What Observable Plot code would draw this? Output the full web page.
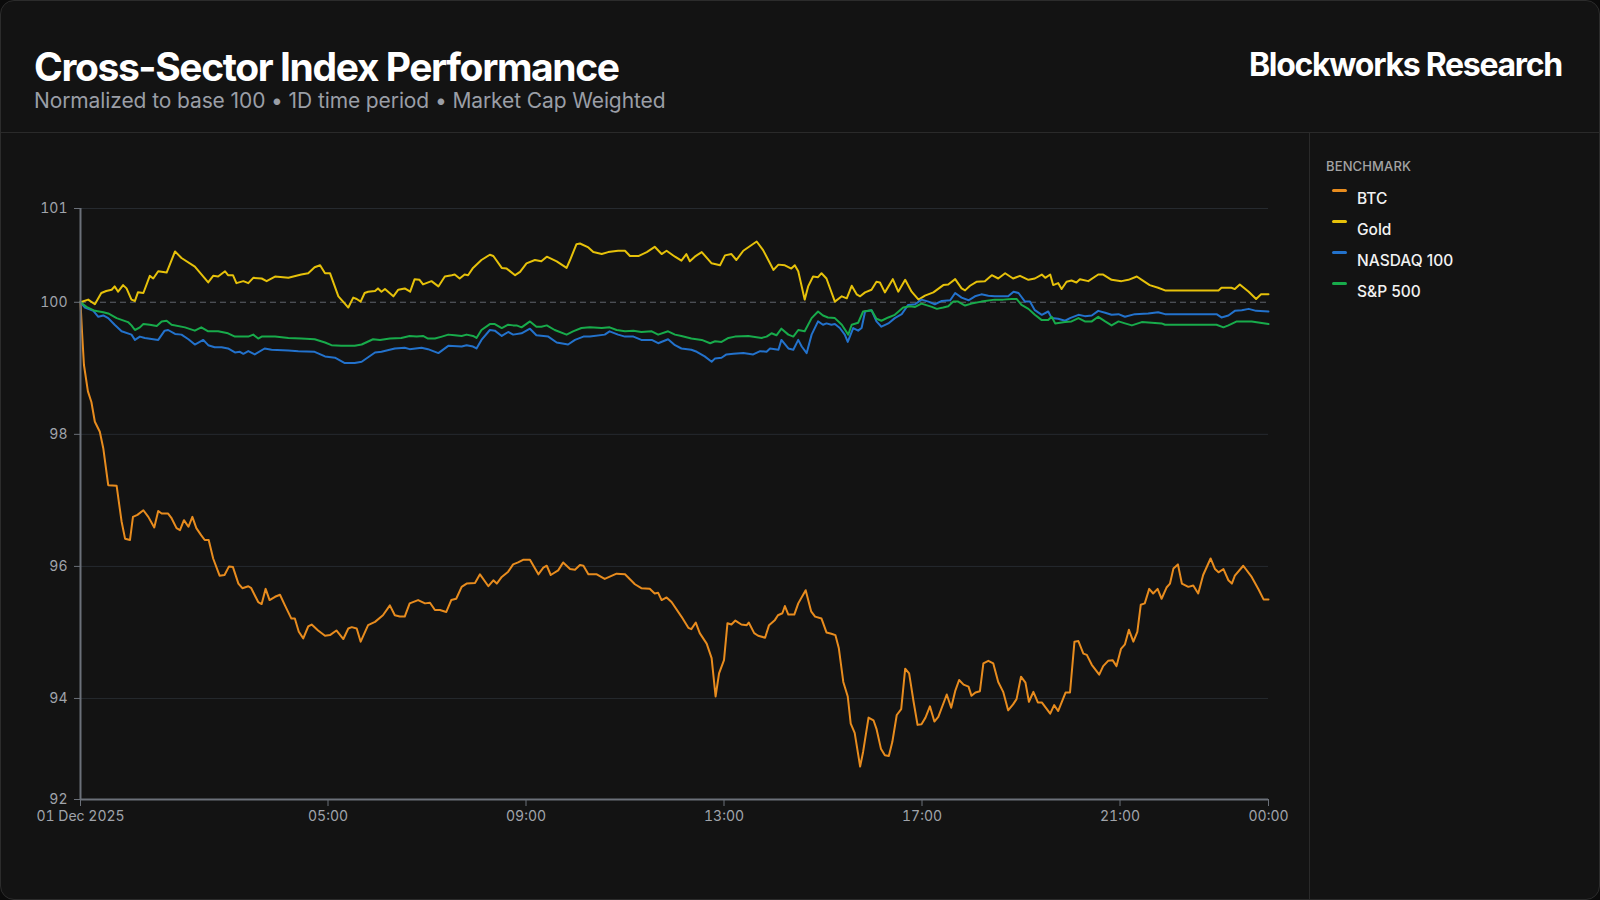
<!DOCTYPE html>
<html>
<head>
<meta charset="utf-8">
<script src="https://cdn.jsdelivr.net/npm/d3@7"></script>
<script src="https://cdn.jsdelivr.net/npm/@observablehq/plot@0.6"></script>
<style>
  html, body { margin: 0; padding: 0; background: #0b0b0b; width: 1600px; height: 900px; overflow: hidden; }
  body { font-family: Inter, "Noto Sans", sans-serif; }
  .card { position: absolute; left: 0; top: 0; width: 1598px; height: 898px; background: #131313; border: 1px solid #2c2c2c; border-radius: 14px; overflow: hidden; }
  .header { position: absolute; left: 0; top: 0; width: 100%; height: 131px; border-bottom: 1px solid #2a2a2a; }
  .title { position: absolute; left: 33px; top: 44px; font-size: 39px; font-weight: 700; color: #ffffff; letter-spacing: -0.036em; line-height: 44px; white-space: nowrap; }
  .subtitle { position: absolute; left: 33px; top: 88px; font-size: 21px; font-weight: 400; color: #9a9ea6; line-height: 24px; white-space: nowrap; letter-spacing: -0.005em; }
  .brand { position: absolute; right: 37px; top: 46px; font-size: 32px; font-weight: 700; color: #ffffff; letter-spacing: -0.04em; line-height: 36px; white-space: nowrap; }
  .chart { position: absolute; left: 0; top: 132px; width: 1308px; height: 768px; }
  .legend { position: absolute; left: 1308px; top: 132px; width: 292px; height: 768px; border-left: 1px solid #2a2a2a; }
  .legend-title { position: absolute; left: 16px; top: 25px; font-size: 13px; font-weight: 500; color: #a3a3a3; letter-spacing: 0.01em; }
  .legend-item { position: absolute; left: 22px; height: 20px; }
  .legend-item .sw { position: absolute; left: 0; top: 0; width: 15px; height: 2.5px; border-radius: 2px; }
  .legend-item .lb { position: absolute; left: 25px; top: 0px; font-size: 15.5px; font-weight: 500; color: #f2f2f2; white-space: nowrap; line-height: 20px; }
</style>
</head>
<body>
<div class="card">
  <div class="header">
    <div class="title">Cross-Sector Index Performance</div>
    <div class="subtitle">Normalized to base 100 • 1D time period • Market Cap Weighted</div>
    <div class="brand">Blockworks Research</div>
  </div>
  <div class="chart" id="chart"></div>
  <div class="legend" id="legend"><div class="legend-title">BENCHMARK</div></div>
</div>
<script>
// ---- data (hours since 01 Dec 2025 00:00, index value) ----
const seriesNames = ["BTC", "Gold", "NASDAQ 100", "S&P 500"];
const seriesColors = ["#e88c1e", "#e6c10a", "#2372cc", "#18ab4b"];

const btc = [[0,100],[0.03,99.56],[0.07,99.05],[0.15,98.65],[0.22,98.49],[0.29,98.19],[0.39,98.04],[0.46,97.79],[0.56,97.23],[0.73,97.22],[0.83,96.68],[0.90,96.42],[1.0,96.40],[1.06,96.75],[1.15,96.78],[1.27,96.85],[1.37,96.75],[1.49,96.59],[1.57,96.84],[1.64,96.80],[1.77,96.80],[1.84,96.73],[1.94,96.58],[2.01,96.55],[2.09,96.70],[2.18,96.60],[2.26,96.75],[2.34,96.58],[2.44,96.47],[2.51,96.40],[2.59,96.40],[2.68,96.12],[2.81,95.86],[2.91,95.87],[3.0,96.0],[3.08,95.99],[3.19,95.74],[3.27,95.67],[3.39,95.70],[3.45,95.67],[3.59,95.46],[3.66,95.43],[3.74,95.66],[3.82,95.49],[3.93,95.54],[4.03,95.57],[4.13,95.41],[4.26,95.21],[4.33,95.21],[4.41,95.01],[4.50,94.91],[4.60,95.09],[4.67,95.12],[4.80,95.03],[4.94,94.95],[5.04,94.96],[5.17,95.03],[5.31,94.90],[5.41,95.06],[5.48,95.08],[5.58,95.06],[5.66,94.86],[5.81,95.11],[5.95,95.16],[6.11,95.26],[6.25,95.41],[6.35,95.26],[6.45,95.24],[6.55,95.24],[6.65,95.44],[6.82,95.49],[6.96,95.44],[7.06,95.45],[7.16,95.34],[7.26,95.34],[7.39,95.31],[7.49,95.49],[7.59,95.51],[7.70,95.69],[7.80,95.74],[7.97,95.75],[8.07,95.88],[8.24,95.70],[8.34,95.79],[8.41,95.74],[8.51,95.84],[8.64,95.92],[8.74,96.03],[8.84,96.06],[8.94,96.10],[9.08,96.10],[9.25,95.88],[9.35,95.98],[9.42,96.01],[9.50,95.87],[9.65,95.94],[9.75,96.06],[9.89,95.96],[9.99,95.95],[10.09,96.02],[10.16,96.01],[10.26,95.88],[10.43,95.88],[10.59,95.81],[10.83,95.89],[11.0,95.88],[11.20,95.73],[11.33,95.67],[11.50,95.66],[11.60,95.59],[11.67,95.60],[11.74,95.49],[11.84,95.53],[11.94,95.46],[12.14,95.24],[12.28,95.07],[12.34,95.05],[12.43,95.15],[12.51,94.99],[12.65,94.83],[12.75,94.61],[12.83,94.03],[12.90,94.38],[13.0,94.58],[13.07,95.14],[13.15,95.12],[13.23,95.18],[13.35,95.12],[13.46,95.11],[13.50,95.15],[13.61,94.99],[13.69,94.95],[13.83,94.92],[13.91,95.11],[14.03,95.19],[14.09,95.26],[14.18,95.29],[14.23,95.40],[14.30,95.27],[14.42,95.27],[14.50,95.44],[14.65,95.64],[14.76,95.32],[14.84,95.24],[14.97,95.21],[15.07,95.00],[15.17,94.98],[15.25,94.96],[15.32,94.76],[15.41,94.25],[15.50,94.03],[15.56,93.62],[15.64,93.48],[15.75,92.97],[15.81,93.19],[15.92,93.71],[16.02,93.67],[16.08,93.54],[16.17,93.24],[16.25,93.14],[16.33,93.13],[16.40,93.34],[16.49,93.75],[16.58,93.84],[16.66,94.45],[16.74,94.38],[16.83,93.95],[16.91,93.60],[16.99,93.61],[17.07,93.71],[17.16,93.88],[17.25,93.65],[17.33,93.72],[17.50,94.06],[17.59,93.86],[17.67,94.11],[17.75,94.28],[17.84,94.21],[17.94,94.18],[18.0,94.04],[18.08,94.09],[18.17,94.11],[18.24,94.53],[18.34,94.57],[18.44,94.53],[18.54,94.25],[18.64,94.10],[18.74,93.82],[18.84,93.91],[18.91,93.99],[19.0,94.33],[19.09,94.24],[19.16,93.95],[19.25,94.10],[19.34,93.94],[19.42,93.94],[19.59,93.77],[19.67,93.90],[19.75,93.81],[19.90,94.09],[19.99,94.09],[20.08,94.86],[20.16,94.87],[20.26,94.68],[20.33,94.66],[20.43,94.51],[20.58,94.36],[20.66,94.49],[20.76,94.57],[20.85,94.58],[20.93,94.49],[21.02,94.75],[21.10,94.82],[21.18,95.04],[21.27,94.86],[21.35,95.01],[21.42,95.42],[21.50,95.44],[21.59,95.66],[21.67,95.59],[21.76,95.66],[21.84,95.51],[21.94,95.68],[22.01,95.74],[22.08,95.97],[22.17,96.03],[22.25,95.74],[22.38,95.69],[22.48,95.71],[22.58,95.59],[22.68,95.87],[22.83,96.12],[22.92,95.96],[22.99,95.91],[23.09,95.96],[23.19,95.79],[23.26,95.74],[23.32,95.86],[23.49,96.01],[23.66,95.84],[23.80,95.65],[23.90,95.50],[24,95.50]];

const gold = [[0,100],[0.155,100.04],[0.29,99.97],[0.42,100.14],[0.52,100.17],[0.63,100.19],[0.69,100.24],[0.76,100.16],[0.86,100.26],[0.93,100.21],[1.03,100.04],[1.10,100.02],[1.16,100.15],[1.27,100.14],[1.40,100.40],[1.47,100.36],[1.57,100.47],[1.74,100.45],[1.91,100.77],[2.04,100.67],[2.31,100.54],[2.58,100.30],[2.68,100.40],[2.78,100.39],[2.92,100.47],[2.98,100.41],[3.08,100.41],[3.15,100.29],[3.29,100.32],[3.39,100.29],[3.49,100.37],[3.66,100.36],[3.76,100.32],[3.93,100.39],[4.20,100.37],[4.46,100.42],[4.60,100.44],[4.73,100.53],[4.84,100.56],[4.94,100.44],[5.04,100.44],[5.21,100.09],[5.34,99.98],[5.41,99.92],[5.51,100.07],[5.58,100.05],[5.66,100.01],[5.74,100.14],[5.81,100.16],[5.95,100.17],[6.01,100.21],[6.08,100.16],[6.15,100.20],[6.32,100.09],[6.42,100.19],[6.55,100.21],[6.66,100.16],[6.75,100.35],[6.85,100.34],[6.92,100.27],[7.09,100.32],[7.23,100.24],[7.36,100.39],[7.50,100.41],[7.56,100.42],[7.66,100.36],[7.76,100.42],[7.83,100.41],[7.93,100.52],[8.10,100.64],[8.27,100.72],[8.34,100.70],[8.51,100.52],[8.61,100.51],[8.78,100.41],[8.88,100.46],[9.01,100.59],[9.18,100.64],[9.31,100.62],[9.42,100.69],[9.62,100.62],[9.82,100.52],[9.89,100.64],[10.02,100.88],[10.09,100.89],[10.26,100.83],[10.36,100.76],[10.53,100.73],[10.66,100.76],[10.86,100.78],[11.0,100.78],[11.10,100.70],[11.27,100.70],[11.44,100.76],[11.60,100.84],[11.74,100.73],[11.84,100.78],[12.01,100.69],[12.14,100.63],[12.24,100.73],[12.31,100.62],[12.41,100.69],[12.55,100.76],[12.75,100.59],[12.92,100.56],[13.02,100.71],[13.15,100.73],[13.25,100.64],[13.39,100.78],[13.66,100.92],[13.79,100.79],[14.0,100.49],[14.10,100.57],[14.23,100.56],[14.36,100.51],[14.43,100.56],[14.50,100.47],[14.63,100.04],[14.70,100.24],[14.80,100.39],[14.90,100.38],[14.97,100.44],[15.07,100.36],[15.24,100.01],[15.38,100.09],[15.48,100.06],[15.58,100.25],[15.68,100.12],[15.75,100.09],[15.85,100.15],[15.98,100.19],[16.08,100.31],[16.15,100.30],[16.25,100.15],[16.41,100.35],[16.52,100.16],[16.66,100.34],[16.79,100.16],[16.93,100.04],[17.06,100.10],[17.23,100.15],[17.43,100.26],[17.53,100.27],[17.67,100.35],[17.80,100.21],[17.87,100.18],[17.97,100.25],[18.10,100.31],[18.27,100.32],[18.41,100.41],[18.54,100.36],[18.68,100.44],[18.84,100.36],[18.98,100.40],[19.15,100.34],[19.28,100.36],[19.42,100.42],[19.49,100.37],[19.59,100.42],[19.65,100.26],[19.75,100.29],[19.82,100.20],[19.92,100.31],[20.02,100.33],[20.12,100.30],[20.19,100.35],[20.36,100.32],[20.56,100.42],[20.66,100.42],[20.83,100.34],[21.03,100.32],[21.17,100.34],[21.34,100.39],[21.44,100.34],[21.60,100.26],[21.77,100.22],[21.91,100.18],[22.99,100.18],[23.05,100.22],[23.25,100.22],[23.32,100.20],[23.42,100.27],[23.60,100.16],[23.75,100.05],[23.85,100.12],[24,100.12]];

const nasdaq = [[0,100],[0.09,99.92],[0.26,99.87],[0.36,99.78],[0.46,99.80],[0.56,99.76],[0.69,99.66],[0.83,99.56],[1.03,99.51],[1.10,99.43],[1.20,99.48],[1.30,99.46],[1.57,99.43],[1.70,99.57],[1.77,99.58],[1.91,99.52],[2.04,99.51],[2.18,99.44],[2.31,99.36],[2.48,99.43],[2.58,99.35],[2.71,99.32],[2.85,99.32],[2.98,99.30],[3.12,99.24],[3.22,99.25],[3.29,99.22],[3.39,99.26],[3.52,99.21],[3.72,99.30],[3.86,99.28],[4.20,99.27],[4.40,99.26],[4.73,99.25],[4.94,99.18],[5.14,99.16],[5.34,99.08],[5.54,99.08],[5.68,99.10],[5.95,99.24],[6.08,99.25],[6.35,99.30],[6.55,99.31],[6.65,99.29],[6.89,99.31],[7.02,99.29],[7.23,99.23],[7.43,99.34],[7.70,99.33],[7.80,99.35],[7.93,99.33],[8.0,99.30],[8.10,99.43],[8.27,99.58],[8.37,99.57],[8.51,99.49],[8.64,99.55],[8.74,99.51],[8.91,99.53],[9.08,99.60],[9.21,99.50],[9.45,99.48],[9.62,99.39],[9.85,99.36],[9.99,99.43],[10.16,99.48],[10.29,99.48],[10.59,99.51],[10.69,99.56],[10.86,99.51],[11.0,99.48],[11.17,99.48],[11.33,99.43],[11.54,99.43],[11.67,99.38],[11.87,99.44],[12.01,99.35],[12.14,99.30],[12.34,99.28],[12.45,99.25],[12.61,99.18],[12.75,99.10],[12.82,99.15],[12.95,99.16],[13.05,99.21],[13.19,99.22],[13.39,99.23],[13.59,99.21],[13.73,99.26],[13.86,99.25],[13.93,99.30],[14.10,99.28],[14.16,99.43],[14.30,99.30],[14.40,99.28],[14.50,99.43],[14.57,99.33],[14.67,99.23],[14.77,99.51],[14.90,99.71],[15.0,99.66],[15.07,99.68],[15.17,99.66],[15.24,99.67],[15.34,99.61],[15.44,99.51],[15.50,99.40],[15.61,99.61],[15.71,99.57],[15.78,99.61],[15.85,99.86],[15.98,99.88],[16.08,99.71],[16.18,99.63],[16.32,99.68],[16.45,99.76],[16.59,99.82],[16.72,99.96],[16.86,99.97],[16.99,100.04],[17.13,100.01],[17.26,99.97],[17.40,100.02],[17.57,100.03],[17.67,100.14],[17.80,100.07],[17.94,100.03],[18.07,100.09],[18.20,100.12],[18.34,100.10],[18.47,100.09],[18.74,100.09],[18.85,100.16],[18.95,100.14],[19.08,100.01],[19.18,100.01],[19.28,99.88],[19.42,99.81],[19.55,99.86],[19.62,99.76],[19.75,99.75],[19.89,99.72],[19.99,99.76],[20.16,99.81],[20.29,99.79],[20.43,99.80],[20.56,99.87],[20.70,99.84],[20.83,99.81],[20.97,99.82],[21.10,99.78],[21.30,99.82],[21.57,99.83],[21.77,99.85],[21.91,99.82],[22.95,99.82],[23.05,99.77],[23.19,99.80],[23.32,99.87],[23.46,99.88],[23.60,99.90],[23.75,99.87],[24,99.86]];

const sp500 = [[0,100],[0.12,99.93],[0.29,99.87],[0.46,99.85],[0.56,99.83],[0.73,99.76],[0.96,99.70],[1.03,99.65],[1.10,99.58],[1.20,99.62],[1.27,99.67],[1.40,99.66],[1.54,99.64],[1.64,99.71],[1.74,99.72],[1.84,99.66],[2.11,99.62],[2.31,99.57],[2.44,99.62],[2.58,99.56],[2.78,99.56],[2.98,99.53],[3.12,99.48],[3.39,99.48],[3.49,99.51],[3.59,99.45],[3.66,99.48],[3.93,99.48],[4.20,99.46],[4.46,99.45],[4.73,99.44],[4.94,99.39],[5.07,99.35],[5.27,99.34],[5.54,99.34],[5.68,99.36],[5.91,99.44],[6.05,99.43],[6.25,99.45],[6.48,99.46],[6.65,99.49],[6.79,99.48],[6.92,99.49],[7.02,99.45],[7.16,99.45],[7.30,99.48],[7.43,99.51],[7.56,99.50],[7.70,99.49],[7.80,99.51],[7.93,99.49],[8.0,99.46],[8.10,99.58],[8.27,99.67],[8.37,99.67],[8.51,99.61],[8.64,99.66],[8.74,99.65],[8.81,99.65],[8.91,99.62],[9.08,99.71],[9.21,99.63],[9.31,99.63],[9.42,99.65],[9.58,99.58],[9.82,99.51],[9.95,99.56],[10.12,99.61],[10.29,99.62],[10.53,99.61],[10.69,99.62],[10.83,99.58],[11.0,99.56],[11.17,99.57],[11.33,99.55],[11.54,99.56],[11.67,99.51],[11.87,99.56],[12.01,99.51],[12.14,99.49],[12.34,99.45],[12.55,99.43],[12.72,99.38],[12.82,99.41],[12.95,99.40],[13.09,99.46],[13.22,99.48],[13.49,99.49],[13.76,99.46],[13.86,99.48],[13.96,99.53],[14.06,99.50],[14.16,99.60],[14.30,99.51],[14.40,99.48],[14.50,99.58],[14.63,99.56],[14.77,99.76],[14.90,99.86],[15.0,99.80],[15.10,99.77],[15.24,99.76],[15.38,99.66],[15.51,99.51],[15.58,99.66],[15.71,99.69],[15.81,99.86],[15.98,99.88],[16.08,99.75],[16.18,99.72],[16.32,99.77],[16.45,99.81],[16.62,99.92],[16.76,99.94],[16.86,99.93],[16.99,99.98],[17.20,99.93],[17.30,99.90],[17.43,99.92],[17.53,99.94],[17.63,100.01],[17.73,100.01],[17.87,99.95],[18.0,99.98],[18.20,100.01],[18.47,100.04],[18.64,100.04],[18.81,100.05],[18.91,100.05],[19.01,99.96],[19.15,99.90],[19.28,99.81],[19.42,99.73],[19.55,99.73],[19.62,99.78],[19.69,99.68],[19.89,99.70],[20.02,99.71],[20.16,99.76],[20.29,99.71],[20.43,99.71],[20.56,99.78],[20.70,99.71],[20.83,99.65],[20.97,99.71],[21.10,99.68],[21.24,99.65],[21.44,99.70],[21.84,99.68],[21.91,99.66],[22.95,99.66],[23.09,99.62],[23.19,99.65],[23.36,99.71],[23.66,99.71],[24,99.67]];

const baseValue = 100;
const yDomain = [92.47, 101.42];
const yTicks = [92.47, 94, 96, 98, 100, 101.42];
const yGrid = [94, 96, 98, 101.42];
const xDomainHours = [0, 24];
const xTickHours = [0, 5, 9, 13, 17, 21, 24];
const xTickLabels = ["01 Dec 2025", "05:00", "09:00", "13:00", "17:00", "21:00", "00:00"];

// ---- build ----
const t0 = Date.UTC(2025, 11, 1, 0, 0, 0);
const toDate = h => new Date(t0 + h * 3600000);
const allSeries = [btc, gold, nasdaq, sp500];
const rows = [];
allSeries.forEach((s, i) => s.forEach(([h, v]) => rows.push({series: seriesNames[i], date: toDate(h), value: v})));

const tickDates = xTickHours.map(toDate);
const labelMap = new Map(tickDates.map((d, i) => [+d, xTickLabels[i]]));

const axisColor = "#6b7079";
const labelColor = "#a0a4ab";

const chart = Plot.plot({
  width: 1308,
  height: 768,
  marginLeft: 79,
  marginTop: 75,
  marginRight: 41,
  marginBottom: 102,
  style: {background: "transparent", color: labelColor, fontFamily: "Inter, 'Noto Sans', sans-serif", fontSize: "14px", overflow: "visible"},
  x: {type: "utc", domain: xDomainHours.map(toDate)},
  y: {domain: yDomain},
  color: {domain: seriesNames, range: seriesColors},
  marks: [
    Plot.gridY(yGrid, {stroke: "#262a2f", strokeOpacity: 1, strokeWidth: 1}),
    Plot.ruleY([baseValue], {stroke: "#5f636b", strokeDasharray: "6,4", strokeWidth: 1.2}),
    Plot.lineY(rows, {x: "date", y: "value", z: "series", stroke: "series", strokeWidth: 2, curve: "linear", strokeLinejoin: "round"}),
    Plot.ruleX([xDomainHours[0]].map(toDate), {stroke: axisColor, strokeWidth: 2}),
    Plot.ruleY([yDomain[0]], {stroke: axisColor, strokeWidth: 2}),
    Plot.axisY({ticks: yTicks, tickFormat: d => d3.format(".0f")(d), tickSize: 6, tickPadding: 7, stroke: axisColor, fill: labelColor, label: null, fontSize: 14}),
    Plot.axisX({ticks: tickDates, tickFormat: d => labelMap.get(+d), tickSize: 7, tickPadding: 5, stroke: axisColor, fill: labelColor, label: null, fontSize: 14})
  ]
});
document.getElementById("chart").appendChild(chart);

// ---- legend ----
const legend = document.getElementById("legend");
seriesNames.forEach((name, i) => {
  const item = document.createElement("div");
  item.className = "legend-item";
  item.style.top = (56 + i * 31) + "px";
  item.innerHTML = `<div class="sw" style="background:${seriesColors[i]}"></div><div class="lb">${name}</div>`;
  legend.appendChild(item);
});
</script>
</body>
</html>
